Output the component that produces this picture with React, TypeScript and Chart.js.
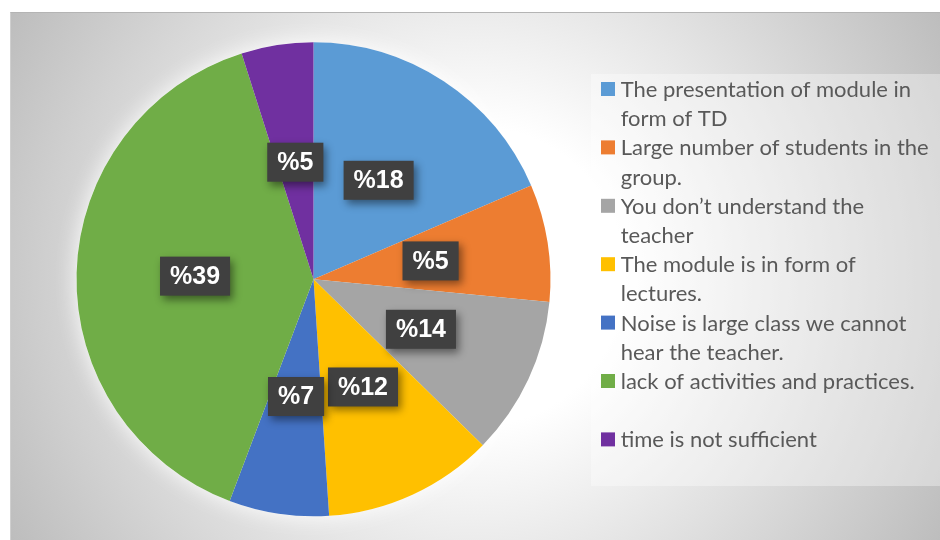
import React, { useEffect, useRef } from "react";
import { Chart, registerables } from "chart.js";

Chart.register(...registerables);

// Legend labels (line-wrapped as in the original)
const categories: string[][] = [
  ["The presentation of module in", "form of TD"],
  ["Large number of students in the", "group."],
  ["You don\u2019t understand the", "teacher"],
  ["The module is in form of", "lectures."],
  ["Noise is large class we cannot", "hear the teacher."],
  ["lack of activities and practices.", ""],
  ["time is not sufficient"],
];

// Slice sizes (percent)
const values: number[] = [18.5, 8.0, 10.8, 11.6, 6.8, 39.3, 4.9];

// Data label texts shown on the slices
const dataLabels: string[] = ["%18", "%5", "%14", "%12", "%7", "%39", "%5"];

const colors: string[] = [
  "#5B9BD5",
  "#ED7D31",
  "#A5A5A5",
  "#FFC000",
  "#4472C4",
  "#70AD47",
  "#7030A0",
];

const glowPlugin = {
  id: "pieGlow",
  beforeDatasetsDraw(chart: any) {
    const meta = chart.getDatasetMeta(0);
    const arc = meta.data[0];
    if (!arc) return;
    const { x, y, outerRadius } = arc.getProps(["x", "y", "outerRadius"], true);
    const ctx = chart.ctx;
    ctx.save();
    ctx.shadowColor = "rgba(255,255,255,0.95)";
    ctx.shadowBlur = 22;
    ctx.fillStyle = "#ffffff";
    ctx.beginPath();
    ctx.arc(x, y, outerRadius, 0, Math.PI * 2);
    ctx.fill();
    ctx.restore();
  },
};

const boxLabelPlugin = {
  id: "boxLabels",
  afterDatasetsDraw(chart: any) {
    const ctx = chart.ctx;
    const meta = chart.getDatasetMeta(0);
    meta.data.forEach((arc: any, i: number) => {
      const { x, y, startAngle, endAngle, outerRadius } = arc.getProps(
        ["x", "y", "startAngle", "endAngle", "outerRadius"],
        true
      );
      const mid = (startAngle + endAngle) / 2;
      const r = outerRadius * 0.5;
      const cx = x + Math.cos(mid) * r;
      const cy = y + Math.sin(mid) * r;
      const text = dataLabels[i];
      ctx.save();
      ctx.font = 'bold 25px "Liberation Sans", Arial, sans-serif';
      const w = ctx.measureText(text).width + 20;
      const h = 39;
      ctx.shadowColor = "rgba(0,0,0,0.45)";
      ctx.shadowBlur = 8;
      ctx.shadowOffsetX = 3;
      ctx.shadowOffsetY = 4;
      ctx.fillStyle = "#404040";
      ctx.fillRect(cx - w / 2, cy - h / 2, w, h);
      ctx.restore();
      ctx.save();
      ctx.font = 'bold 25px "Liberation Sans", Arial, sans-serif';
      ctx.fillStyle = "#ffffff";
      ctx.textAlign = "center";
      ctx.textBaseline = "middle";
      ctx.fillText(text, cx, cy + 1);
      ctx.restore();
    });
  },
};

const sideLegendPlugin = {
  id: "sideLegend",
  afterDraw(chart: any) {
    const ctx = chart.ctx;
    const labels = chart.data.labels as string[][];
    const bg = chart.data.datasets[0].backgroundColor as string[];
    ctx.save();
    ctx.fillStyle = "rgba(255,255,255,0.35)";
    ctx.fillRect(580, 61, 350, 412);
    ctx.font = '22px Lato, "Open Sans", sans-serif';
    ctx.textBaseline = "middle";
    ctx.textAlign = "left";
    let y = 77;
    labels.forEach((lines, i) => {
      ctx.fillStyle = bg[i];
      ctx.fillRect(590, y - 8, 14, 14);
      ctx.fillStyle = "#595959";
      lines.forEach((line) => {
        if (line) ctx.fillText(line, 609.7, y);
        y += 29.2;
      });
    });
    ctx.restore();
  },
};

export default function App() {
  const canvasRef = useRef<HTMLCanvasElement | null>(null);

  useEffect(() => {
    if (!canvasRef.current) return;
    const chart = new Chart(canvasRef.current, {
      type: "pie",
      data: {
        labels: categories as any,
        datasets: [
          {
            data: values,
            backgroundColor: colors,
            borderWidth: 0,
            hoverOffset: 0,
            offset: 0,
          },
        ],
      },
      options: {
        responsive: false,
        animation: false,
        devicePixelRatio: 1,
        layout: {
          padding: { left: 65.5, top: 28.8, right: 389.5, bottom: 23.2 },
        },
        plugins: {
          legend: { display: false },
          tooltip: { enabled: false },
          title: { display: false },
        },
      },
      plugins: [glowPlugin, boxLabelPlugin, sideLegendPlugin],
    });
    return () => chart.destroy();
  }, []);

  return (
    <div
      style={{
        position: "absolute",
        left: 10,
        top: 12,
        width: 930,
        height: 528,
        borderTop: "1px solid #b4b4b4",
        borderLeft: "1px solid #cfcfcf",
        boxSizing: "border-box",
        overflow: "hidden",
        background:
          "radial-gradient(circle farthest-corner at 50% 50%, #ffffff 28%, #bdbdbd 100%)",
      }}
    >
      <canvas ref={canvasRef} width={929} height={527} style={{ display: "block" }} />
    </div>
  );
}
